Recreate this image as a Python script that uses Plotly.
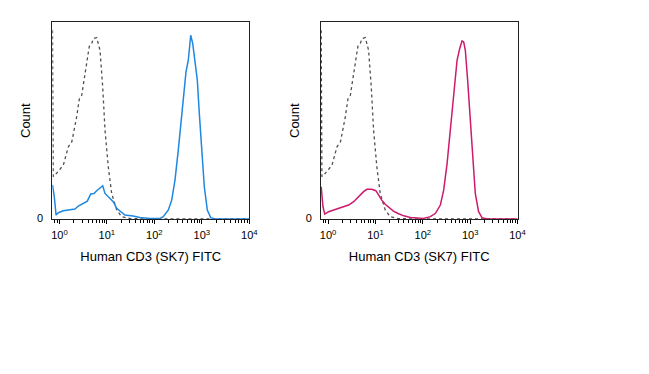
import plotly.graph_objects as go

# ---- data (FITC intensity, normalised count) ----
control_x = [0.715, 0.74, 0.81, 1.21, 1.54, 1.82, 2.31, 2.62, 2.95, 3.46, 4.26, 4.79,
             5.17, 6.10, 7.16, 8.16, 9.13, 10.7, 12.6, 16.1, 20.5, 30.7, 100, 1000, 10000]
control_y = [95.9, 21.5, 22.3, 27.4, 36.7, 39.2, 51.9, 60.9, 62.9, 74.0, 87.8, 89.2,
             91.7, 92.2, 85.8, 67.2, 45.2, 26.5, 13.0, 4.6, 1.2, 0.2, 0.0, 0.0, 0.0]

blue_x = [0.715, 0.78, 0.85, 0.95, 1.21, 1.67, 2.13, 2.50, 3.19, 3.87, 4.56, 5.35, 6.10,
          7.16, 8.16, 9.13, 11.2, 13.6, 16.1, 20.5, 24.0, 35.5, 49.9, 81, 132, 154,
          197, 232, 272, 319, 377, 427, 464, 519, 583, 643, 718, 803, 885, 994, 1128,
          1304, 1538, 1894, 10000]
blue_y = [17.3, 11.3, 2.0, 3.2, 4.2, 4.9, 5.1, 6.6, 8.0, 9.1, 12.7, 13.0, 14.4,
          15.6, 16.9, 13.0, 11.0, 8.8, 5.4, 3.2, 2.0, 1.5, 0.8, 0.25, 0.25, 1.2,
          4.6, 9.6, 19.8, 35.0, 53.7, 68.9, 74.8, 80.7, 93.4, 89.2, 80.7, 70.6, 53.7,
          33.4, 16.4, 4.6, 0.7, 0.0, 0.0]

pink_x = [0.715, 0.78, 0.85, 1.03, 1.31, 1.67, 2.13, 2.71, 3.46, 4.05, 4.79, 5.61,
          6.59, 8.40, 10.2, 11.6, 13.6, 16.1, 20.5, 24.0, 30.0, 39.6, 55, 76, 103,
          145, 185, 235, 276, 326, 382, 449, 529, 600, 674, 729, 791, 885, 1009,
          1149, 1284, 1508, 1778, 2266, 10000]
pink_y = [16.4, 6.2, 2.5, 3.7, 4.6, 5.4, 6.2, 7.1, 8.8, 10.5, 12.2, 13.9,
          15.1, 15.1, 14.4, 12.2, 9.6, 7.5, 5.4, 4.0, 2.8, 1.6, 0.8, 0.4, 0.3,
          1.2, 2.9, 7.1, 14.7, 28.3, 45.2, 62.1, 80.7, 86.6, 90.5, 90.0, 85.8,
          70.6, 48.6, 28.3, 13.0, 3.7, 0.7, 0.0, 0.0]

major_vals = [1, 10, 100, 1000, 10000]
major_text = ["10<sup>0</sup>", "10<sup>1</sup>", "10<sup>2</sup>",
              "10<sup>3</sup>", "10<sup>4</sup>"]
minor_vals = [m * d for d in [0.1, 1, 10, 100, 1000] for m in range(2, 10)]
x_title = "Human CD3 (SK7) FITC"
y_title = "Count"

FONT = "Arial, Liberation Sans, sans-serif"
W, H = 649, 374

fig = go.Figure()

panels = [
    ("x", "y", blue_x, blue_y, "#1f87e0"),
    ("x2", "y2", pink_x, pink_y, "#cc1a6c"),
]
for xa, ya, sx, sy, col in panels:
    fig.add_trace(go.Scatter(x=control_x, y=control_y, xaxis=xa, yaxis=ya, mode="lines",
                             line=dict(color="#505050", width=1.3, dash="dot"),
                             showlegend=False, hoverinfo="skip"))
    fig.add_trace(go.Scatter(x=sx, y=sy, xaxis=xa, yaxis=ya, mode="lines",
                             line=dict(color=col, width=1.5),
                             showlegend=False))

ydom = [1 - 219 / H, 1 - 22.3 / H]
xdoms = [[52.3 / W, 249.3 / W], [321.0 / W, 517.5 / W]]

def xaxis_cfg(dom, anchor):
    return dict(
        domain=dom, anchor=anchor, type="log", range=[-0.15, 4.0],
        automargin=False,
        tickmode="array", tickvals=major_vals, ticktext=major_text,
        ticks="outside", ticklen=4, tickwidth=1, tickcolor="#000",
        ticklabelstandoff=2,
        minor=dict(tickmode="array", tickvals=minor_vals, ticks="outside",
                   ticklen=2.5, tickwidth=1, tickcolor="#000", showgrid=False),
        showline=True, linecolor="#222", linewidth=1, mirror=True,
        showgrid=False, zeroline=False,
        tickfont=dict(family=FONT, size=11, color="#000"),
        title=dict(text=x_title, font=dict(family=FONT, size=13, color="#000"),
                   standoff=11),
        fixedrange=True,
    )

def yaxis_cfg(anchor):
    return dict(
        domain=ydom, anchor=anchor, range=[0, 100],
        automargin=False,
        tickmode="array", tickvals=[0], ticktext=["0"], ticks="",
        ticklabelstandoff=6, ticklabelshift=-1,
        showline=True, linecolor="#222", linewidth=1, mirror=True,
        showgrid=False, zeroline=False,
        tickfont=dict(family=FONT, size=11, color="#000"),
        title=dict(text=y_title, font=dict(family=FONT, size=13, color="#000"),
                   standoff=3),
        fixedrange=True,
    )

fig.update_layout(
    width=W, height=H,
    margin=dict(l=0, r=0, t=0, b=0, autoexpand=False),
    paper_bgcolor="white", plot_bgcolor="white",
    xaxis=xaxis_cfg(xdoms[0], "y"),
    yaxis=yaxis_cfg("x"),
    xaxis2=xaxis_cfg(xdoms[1], "y2"),
    yaxis2=yaxis_cfg("x2"),
)

fig.write_html("out.html", config={"displayModeBar": False},
               post_script="document.body.style.margin='0';document.body.style.padding='0';")
